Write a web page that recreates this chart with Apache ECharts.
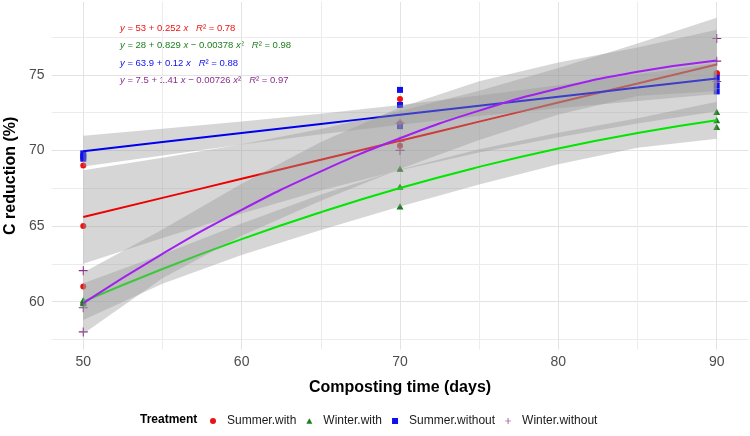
<!DOCTYPE html>
<html>
<head>
<meta charset="utf-8">
<script src="https://cdn.jsdelivr.net/npm/echarts@6/dist/echarts.min.js"></script>
<style>
html, body { margin: 0; padding: 0; background: #fff; }
#main { width: 750px; height: 436px; }
</style>
</head>
<body>
<div id="main"></div>
<script>
// composting days where the fitted curves / bands are sampled
var days = [50, 55, 60, 65, 70, 75, 80, 85, 90];

// replicates [day, C reduction %]
var summerWithPts = [[50, 69.0], [50, 65.0], [50, 61.0], [70, 73.4], [70, 71.8], [70, 70.3], [90, 75.1], [90, 75.1], [90, 75.05]];
var winterWithPts = [[50, 60.1], [50, 60.0], [50, 59.9], [70, 68.8], [70, 67.6], [70, 66.3], [90, 72.55], [90, 72.0], [90, 71.55]];
var summerWithoutPts = [[50, 69.8], [50, 69.6], [50, 69.45], [70, 74.0], [70, 73.0], [70, 71.6], [90, 74.8], [90, 74.3], [90, 73.9]];
var winterWithoutPts = [[50, 62.05], [50, 59.6], [50, 58.0], [70, 71.8], [70, 70.6], [70, 70.0], [90, 77.4], [90, 75.9], [90, 74.55]];

// fitted lines
var summerWithFit = [65.60, 66.86, 68.12, 69.38, 70.64, 71.90, 73.16, 74.42, 75.68];
var winterWithFit = [60.00, 62.16, 64.13, 65.91, 67.51, 68.91, 70.13, 71.15, 71.99];
var summerWithoutFit = [69.95, 70.55, 71.15, 71.75, 72.35, 72.95, 73.55, 74.15, 74.75];
var winterWithoutFit = [59.90, 63.16, 66.07, 68.61, 70.80, 72.63, 74.09, 75.20, 75.95];

// confidence bands (lower / upper)
var summerWithLo = [62.51, 64.21, 65.83, 67.34, 68.69, 69.86, 70.87, 71.77, 72.59];
var summerWithHi = [68.69, 69.51, 70.41, 71.42, 72.60, 73.94, 75.45, 77.07, 78.77];
var winterWithLo = [58.78, 61.19, 63.09, 64.74, 66.29, 67.74, 69.09, 70.18, 70.77];
var winterWithHi = [61.22, 63.13, 65.17, 67.08, 68.73, 70.08, 71.17, 72.12, 73.21];
var summerWithoutLo = [68.93, 69.67, 70.39, 71.07, 71.70, 72.27, 72.79, 73.27, 73.73];
var summerWithoutHi = [70.97, 71.43, 71.91, 72.43, 73.00, 73.63, 74.31, 75.03, 75.77];
var winterWithoutLo = [57.87, 61.55, 64.35, 66.67, 68.77, 70.69, 72.37, 73.59, 73.92];
var winterWithoutHi = [61.93, 64.77, 67.79, 70.55, 72.83, 74.57, 75.81, 76.81, 77.98];

var xTickLabels = [50, 60, 70, 80, 90];
var yTickLabels = [60, 65, 70, 75];

var names = ['Summer.with', 'Winter.with', 'Summer.without', 'Winter.without'];
var pointColors = ['#ee1111', '#1b7f1b', '#1010ee', '#8b2f8b'];
var lineColors = ['#ee0000', '#00e600', '#0000ee', '#a020f0'];
var symbols = [
  'circle',
  'path://M5,0L10,9L0,9Z',
  'path://M0,0H10V10H0Z',
  'path://M4.4,0H5.6V4.4H10V5.6H5.6V10H4.4V5.6H0V4.4H4.4Z'
];
var symbolSizes = [6, 7, 6, 9];
var equations = [
  '{i|y} = 53 + 0.252 {i|x}   {i|R}² = 0.78',
  '{i|y} = 28 + 0.829 {i|x} − 0.00378 {i|x}²   {i|R}² = 0.98',
  '{i|y} = 63.9 + 0.12 {i|x}   {i|R}² = 0.88',
  '{i|y} = 7.5 + 1.41 {i|x} − 0.00726 {i|x}²   {i|R}² = 0.97'
];

var FONT = '"Liberation Sans", Arial, sans-serif';
var allPts = [summerWithPts, winterWithPts, summerWithoutPts, winterWithoutPts];
var allFit = [summerWithFit, winterWithFit, summerWithoutFit, winterWithoutFit];
var allLo = [summerWithLo, winterWithLo, summerWithoutLo, winterWithoutLo];
var allHi = [summerWithHi, winterWithHi, summerWithoutHi, winterWithoutHi];

function band(lo, hi) {
  return function (params, api) {
    var pts = [];
    for (var i = 0; i < days.length; i++) pts.push(api.coord([days[i], hi[i]]));
    for (var j = days.length - 1; j >= 0; j--) pts.push(api.coord([days[j], lo[j]]));
    return { type: 'polygon', shape: { points: pts }, style: { fill: 'rgba(153,153,153,0.4)' } };
  };
}

var series = [];
// points first, smooths drawn over them
names.forEach(function (n, k) {
  series.push({
    name: n,
    type: 'scatter',
    data: allPts[k],
    symbol: symbols[k],
    symbolSize: symbolSizes[k],
    symbolKeepAspect: true,
    itemStyle: { color: pointColors[k], opacity: 1 },
    z: 1,
    silent: true
  });
});
names.forEach(function (n, k) {
  series.push({
    type: 'custom',
    renderItem: band(allLo[k], allHi[k]),
    data: [[days[0], allLo[k][0]]],
    z: 2 + 2 * k,
    silent: true
  });
  series.push({
    type: 'line',
    data: days.map(function (d, i) { return [d, allFit[k][i]]; }),
    smooth: true,
    showSymbol: false,
    lineStyle: { color: lineColors[k], width: 2 },
    z: 3 + 2 * k,
    silent: true
  });
});

var graphic = equations.map(function (t, k) {
  return {
    type: 'text',
    x: 120,
    y: 28 + k * 17.6,
    style: {
      text: t,
      fill: pointColors[k],
      fontSize: 9.5,
      fontFamily: FONT,
      verticalAlign: 'middle',
      rich: { i: { fontStyle: 'italic', fontSize: 9.5, fontFamily: FONT, fill: pointColors[k] } }
    }
  };
});
graphic.push({
  type: 'text',
  x: 140,
  y: 420,
  style: { text: 'Treatment', fill: '#000', fontSize: 12, fontWeight: 'bold', fontFamily: FONT, verticalAlign: 'middle' }
});

var myChart = echarts.init(document.getElementById('main'), null, { renderer: 'canvas' });
myChart.setOption({
  animation: false,
  backgroundColor: '#fff',
  grid: { left: 51.6, right: 1.6, top: 2, bottom: 86.4, containLabel: false, outerBoundsMode: 'none' },
  xAxis: {
    type: 'value',
    min: 48,
    max: 92,
    splitNumber: 4,
    name: 'Composting time (days)',
    nameLocation: 'middle',
    nameGap: 30,
    nameTextStyle: { fontSize: 16, fontWeight: 'bold', color: '#000', fontFamily: FONT },
    axisLine: { show: false },
    axisTick: { show: false },
    axisLabel: {
      color: '#4d4d4d', fontSize: 14, fontFamily: FONT, margin: 6,
      showMinLabel: false, showMaxLabel: false,
      formatter: function (v) { return xTickLabels.indexOf(v) >= 0 ? String(v) : ''; }
    },
    splitLine: { show: true, showMinLine: false, showMaxLine: false, lineStyle: { color: '#e3e3e3', width: 1 } },
    minorTick: { show: false, splitNumber: 2 },
    minorSplitLine: { show: true, lineStyle: { color: '#ececec', width: 1 } }
  },
  yAxis: {
    type: 'value',
    min: 56.83,
    max: 79.81,
    splitNumber: 5,
    name: 'C reduction (%)',
    nameLocation: 'middle',
    nameGap: 32,
    nameTextStyle: { fontSize: 16, fontWeight: 'bold', color: '#000', fontFamily: FONT },
    axisLine: { show: false },
    axisTick: { show: false },
    axisLabel: {
      color: '#4d4d4d', fontSize: 14, fontFamily: FONT, margin: 7,
      showMinLabel: false, showMaxLabel: false,
      formatter: function (v) { return yTickLabels.indexOf(v) >= 0 ? String(v) : ''; }
    },
    splitLine: { show: true, showMinLine: false, showMaxLine: false, lineStyle: { color: '#e3e3e3', width: 1 } },
    minorTick: { show: false, splitNumber: 2 },
    minorSplitLine: { show: true, lineStyle: { color: '#ececec', width: 1 } }
  },
  legend: {
    left: 205,
    top: 410,
    orient: 'horizontal',
    itemWidth: 6,
    itemHeight: 6,
    itemGap: 10,
    data: names,
    textStyle: { fontSize: 12, color: '#1a1a1a', fontFamily: FONT, padding: [0, 0, 0, 6] },
    selectedMode: false
  },
  graphic: graphic,
  series: series
});
</script>
</body>
</html>
